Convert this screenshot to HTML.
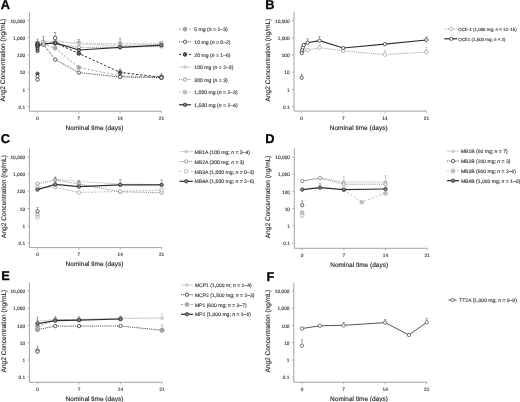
<!DOCTYPE html>
<html><head><meta charset="utf-8"><style>html,body{margin:0;padding:0;background:#fff;}svg{display:block;filter:blur(0.3px);} text{stroke:#444;stroke-width:0.16px;text-rendering:geometricPrecision;}</style></head>
<body><svg width="520" height="402" viewBox="0 0 520 402" font-family="Liberation Sans, sans-serif"><rect width="520" height="402" fill="#fff"/><text x="0.8" y="9.0" font-size="12.8" font-weight="bold" fill="#000" style="stroke:#000;stroke-width:0.25px">A</text><line x1="29.4" y1="11.7" x2="29.4" y2="111.2" stroke="#999" stroke-width="0.9"/><line x1="29.4" y1="111.2" x2="161.5" y2="111.2" stroke="#999" stroke-width="0.9"/><line x1="27.4" y1="20.40" x2="29.4" y2="20.40" stroke="#999" stroke-width="0.7"/><text x="25.099999999999998" y="22.50" font-size="4.8" text-anchor="end" fill="#444">10,000</text><line x1="27.4" y1="37.65" x2="29.4" y2="37.65" stroke="#999" stroke-width="0.7"/><text x="25.099999999999998" y="39.75" font-size="4.8" text-anchor="end" fill="#444">1,000</text><line x1="27.4" y1="54.90" x2="29.4" y2="54.90" stroke="#999" stroke-width="0.7"/><text x="25.099999999999998" y="57.00" font-size="4.8" text-anchor="end" fill="#444">100</text><line x1="27.4" y1="72.15" x2="29.4" y2="72.15" stroke="#999" stroke-width="0.7"/><text x="25.099999999999998" y="74.25" font-size="4.8" text-anchor="end" fill="#444">10</text><line x1="27.4" y1="89.40" x2="29.4" y2="89.40" stroke="#999" stroke-width="0.7"/><text x="25.099999999999998" y="91.50" font-size="4.8" text-anchor="end" fill="#444">1</text><line x1="27.4" y1="106.65" x2="29.4" y2="106.65" stroke="#999" stroke-width="0.7"/><text x="25.099999999999998" y="108.75" font-size="4.8" text-anchor="end" fill="#444">0.1</text><line x1="37.50" y1="111.2" x2="37.50" y2="113.2" stroke="#999" stroke-width="0.7"/><text x="37.50" y="119.80" font-size="4.8" text-anchor="middle" fill="#444">0</text><line x1="78.80" y1="111.2" x2="78.80" y2="113.2" stroke="#999" stroke-width="0.7"/><text x="78.80" y="119.80" font-size="4.8" text-anchor="middle" fill="#444">7</text><line x1="120.10" y1="111.2" x2="120.10" y2="113.2" stroke="#999" stroke-width="0.7"/><text x="120.10" y="119.80" font-size="4.8" text-anchor="middle" fill="#444">14</text><line x1="161.40" y1="111.2" x2="161.40" y2="113.2" stroke="#999" stroke-width="0.7"/><text x="161.40" y="119.80" font-size="4.8" text-anchor="middle" fill="#444">21</text><text x="94.50" y="129.70" font-size="6.5" text-anchor="middle" fill="#222">Nominal time (days)</text><text transform="translate(5.3,60.10) rotate(-90)" font-size="6.6" text-anchor="middle" fill="#222">Ang2 Concentration (ng/mL)</text><polyline points="37.50,43.00 43.40,42.00 55.20,42.00 78.80,43.00 120.10,43.80 161.40,43.00" fill="none" stroke="#bbb" stroke-width="0.9" stroke-dasharray="2.2,1.8"/><circle cx="37.50" cy="43.00" r="2.1" fill="#c0c0c0" stroke="#b0b0b0" stroke-width="0.5"/><circle cx="43.40" cy="42.00" r="2.1" fill="#c0c0c0" stroke="#b0b0b0" stroke-width="0.5"/><circle cx="55.20" cy="42.00" r="2.1" fill="#c0c0c0" stroke="#b0b0b0" stroke-width="0.5"/><circle cx="78.80" cy="43.00" r="2.1" fill="#c0c0c0" stroke="#b0b0b0" stroke-width="0.5"/><circle cx="120.10" cy="43.80" r="2.1" fill="#c0c0c0" stroke="#b0b0b0" stroke-width="0.5"/><circle cx="161.40" cy="43.00" r="2.1" fill="#c0c0c0" stroke="#b0b0b0" stroke-width="0.5"/><polyline points="37.50,44.00 43.40,42.50 55.20,40.50 78.80,44.00 120.10,45.60 161.40,44.00" fill="none" stroke="#d6d6d6" stroke-width="1.2"/><circle cx="37.50" cy="44.00" r="1.5" fill="#d0d0d0" stroke="#c0c0c0" stroke-width="0.5"/><circle cx="43.40" cy="42.50" r="1.5" fill="#d0d0d0" stroke="#c0c0c0" stroke-width="0.5"/><circle cx="55.20" cy="40.50" r="1.5" fill="#d0d0d0" stroke="#c0c0c0" stroke-width="0.5"/><circle cx="78.80" cy="44.00" r="1.5" fill="#d0d0d0" stroke="#c0c0c0" stroke-width="0.5"/><circle cx="120.10" cy="45.60" r="1.5" fill="#d0d0d0" stroke="#c0c0c0" stroke-width="0.5"/><circle cx="161.40" cy="44.00" r="1.5" fill="#d0d0d0" stroke="#c0c0c0" stroke-width="0.5"/><polyline points="37.50,44.00 43.40,43.50 55.20,43.50 78.80,47.30 120.10,47.30 161.40,46.40" fill="none" stroke="#808080" stroke-width="1.0" stroke-dasharray="0.9,1.0"/><circle cx="37.50" cy="44.00" r="1.7" fill="#fff" stroke="#777" stroke-width="0.7"/><circle cx="43.40" cy="43.50" r="1.7" fill="#fff" stroke="#777" stroke-width="0.7"/><circle cx="55.20" cy="43.50" r="1.7" fill="#fff" stroke="#777" stroke-width="0.7"/><circle cx="78.80" cy="47.30" r="1.7" fill="#fff" stroke="#777" stroke-width="0.7"/><circle cx="120.10" cy="47.30" r="1.7" fill="#fff" stroke="#777" stroke-width="0.7"/><circle cx="161.40" cy="46.40" r="1.7" fill="#fff" stroke="#777" stroke-width="0.7"/><polyline points="43.40,44.00 55.20,48.10 78.80,67.50 120.10,75.80 161.40,77.00" fill="none" stroke="#999" stroke-width="0.9" stroke-dasharray="2.2,1.8"/><circle cx="43.40" cy="44.00" r="2.1" fill="#aaa" stroke="#999" stroke-width="0.5"/><circle cx="55.20" cy="48.10" r="2.1" fill="#aaa" stroke="#999" stroke-width="0.5"/><circle cx="78.80" cy="67.50" r="2.1" fill="#aaa" stroke="#999" stroke-width="0.5"/><circle cx="120.10" cy="75.80" r="2.1" fill="#aaa" stroke="#999" stroke-width="0.5"/><circle cx="161.40" cy="77.00" r="2.1" fill="#aaa" stroke="#999" stroke-width="0.5"/><polyline points="43.40,44.50 55.20,59.60 78.80,72.60 120.10,77.00 161.40,77.60" fill="none" stroke="#333" stroke-width="1.0" stroke-dasharray="0.9,1.0"/><circle cx="43.40" cy="44.50" r="1.7" fill="#fff" stroke="#333" stroke-width="0.8"/><circle cx="55.20" cy="59.60" r="1.7" fill="#fff" stroke="#333" stroke-width="0.8"/><circle cx="78.80" cy="72.60" r="1.7" fill="#fff" stroke="#333" stroke-width="0.8"/><circle cx="120.10" cy="77.00" r="1.7" fill="#fff" stroke="#333" stroke-width="0.8"/><circle cx="161.40" cy="77.60" r="1.7" fill="#fff" stroke="#333" stroke-width="0.8"/><polyline points="37.50,45.00 43.40,44.00 55.20,43.00 78.80,53.40 120.10,72.40 161.40,77.30" fill="none" stroke="#333" stroke-width="1.0" stroke-dasharray="2.4,1.8"/><circle cx="37.50" cy="45.00" r="2.0" fill="#555" stroke="#333" stroke-width="0.6"/><circle cx="43.40" cy="44.00" r="2.0" fill="#555" stroke="#333" stroke-width="0.6"/><circle cx="55.20" cy="43.00" r="2.0" fill="#555" stroke="#333" stroke-width="0.6"/><circle cx="78.80" cy="53.40" r="2.0" fill="#555" stroke="#333" stroke-width="0.6"/><circle cx="120.10" cy="72.40" r="2.0" fill="#555" stroke="#333" stroke-width="0.6"/><circle cx="161.40" cy="77.30" r="2.0" fill="#555" stroke="#333" stroke-width="0.6"/><polyline points="37.50,46.00 43.40,44.00 55.20,42.90 78.80,50.00 120.10,47.30 161.40,45.20" fill="none" stroke="#2e2e2e" stroke-width="1.2"/><circle cx="37.50" cy="46.00" r="1.7" fill="#8a8a8a" stroke="#222" stroke-width="0.75"/><circle cx="43.40" cy="44.00" r="1.7" fill="#8a8a8a" stroke="#222" stroke-width="0.75"/><circle cx="55.20" cy="42.90" r="1.7" fill="#8a8a8a" stroke="#222" stroke-width="0.75"/><circle cx="78.80" cy="50.00" r="1.7" fill="#8a8a8a" stroke="#222" stroke-width="0.75"/><circle cx="120.10" cy="47.30" r="1.7" fill="#8a8a8a" stroke="#222" stroke-width="0.75"/><circle cx="161.40" cy="45.20" r="1.7" fill="#8a8a8a" stroke="#222" stroke-width="0.75"/><circle cx="37.50" cy="43.00" r="1.6" fill="#8a8a8a" stroke="#222" stroke-width="0.75"/><circle cx="37.50" cy="45.00" r="1.6" fill="#8a8a8a" stroke="#222" stroke-width="0.75"/><circle cx="37.50" cy="47.00" r="1.6" fill="#8a8a8a" stroke="#222" stroke-width="0.75"/><circle cx="37.50" cy="49.00" r="1.6" fill="#8a8a8a" stroke="#222" stroke-width="0.75"/><circle cx="37.50" cy="51.00" r="1.6" fill="#8a8a8a" stroke="#222" stroke-width="0.75"/><circle cx="43.40" cy="42.50" r="1.7" fill="#c0c0c0" stroke="#b0b0b0" stroke-width="0.5"/><circle cx="43.40" cy="44.50" r="1.7" fill="#c0c0c0" stroke="#b0b0b0" stroke-width="0.5"/><circle cx="37.50" cy="73.60" r="1.7" fill="#555" stroke="#333" stroke-width="0.6"/><circle cx="37.50" cy="76.30" r="1.6" fill="#fff" stroke="#333" stroke-width="0.8"/><circle cx="37.50" cy="79.60" r="1.8" fill="#fff" stroke="#333" stroke-width="0.8"/><circle cx="55.20" cy="38.00" r="1.8" fill="#fff" stroke="#333" stroke-width="0.8"/><line x1="37.50" y1="42.00" x2="37.50" y2="39.30" stroke="#666" stroke-width="0.6"/><line x1="36.50" y1="39.30" x2="38.50" y2="39.30" stroke="#666" stroke-width="0.6"/><line x1="43.40" y1="41.00" x2="43.40" y2="36.30" stroke="#666" stroke-width="0.6"/><line x1="42.40" y1="36.30" x2="44.40" y2="36.30" stroke="#666" stroke-width="0.6"/><line x1="55.20" y1="36.00" x2="55.20" y2="32.50" stroke="#666" stroke-width="0.6"/><line x1="54.20" y1="32.50" x2="56.20" y2="32.50" stroke="#666" stroke-width="0.6"/><line x1="78.80" y1="43.00" x2="78.80" y2="39.50" stroke="#666" stroke-width="0.6"/><line x1="77.80" y1="39.50" x2="79.80" y2="39.50" stroke="#666" stroke-width="0.6"/><line x1="120.10" y1="45.00" x2="120.10" y2="38.60" stroke="#666" stroke-width="0.6"/><line x1="119.10" y1="38.60" x2="121.10" y2="38.60" stroke="#666" stroke-width="0.6"/><line x1="120.10" y1="72.00" x2="120.10" y2="69.00" stroke="#666" stroke-width="0.6"/><line x1="119.10" y1="69.00" x2="121.10" y2="69.00" stroke="#666" stroke-width="0.6"/><line x1="161.40" y1="76.00" x2="161.40" y2="73.40" stroke="#666" stroke-width="0.6"/><line x1="160.40" y1="73.40" x2="162.40" y2="73.40" stroke="#666" stroke-width="0.6"/><circle cx="161.40" cy="77.60" r="1.65" fill="#fff" stroke="#2a2a2a" stroke-width="0.75"/><line x1="179" y1="29.20" x2="191" y2="29.20" stroke="#999" stroke-width="0.9" stroke-dasharray="2,8.00,2"/><circle cx="185.00" cy="29.20" r="2.1" fill="#aaa" stroke="#999" stroke-width="0.5"/><text x="194.3" y="31.30" font-size="5.12" fill="#444">5 mg (<tspan font-style="italic">n</tspan> = 1–3)</text><line x1="179" y1="41.80" x2="191" y2="41.80" stroke="#333" stroke-width="1.0" stroke-dasharray="0.9,1.0"/><circle cx="185.00" cy="41.80" r="1.7" fill="#fff" stroke="#333" stroke-width="0.8"/><text x="194.3" y="43.90" font-size="5.12" fill="#444">10 mg (<tspan font-style="italic">n</tspan> = 0–2)</text><line x1="179" y1="54.40" x2="191" y2="54.40" stroke="#333" stroke-width="1.0" stroke-dasharray="2,8.00,2"/><circle cx="185.00" cy="54.40" r="2.0" fill="#555" stroke="#333" stroke-width="0.6"/><text x="194.3" y="56.50" font-size="5.12" fill="#444">20 mg (<tspan font-style="italic">n</tspan> = 1–6)</text><line x1="179" y1="67.00" x2="191" y2="67.00" stroke="#d6d6d6" stroke-width="1.2"/><circle cx="185.00" cy="67.00" r="1.5" fill="#d0d0d0" stroke="#c0c0c0" stroke-width="0.5"/><text x="194.3" y="69.10" font-size="5.12" fill="#444">100 mg (<tspan font-style="italic">n</tspan> = 2–3)</text><line x1="179" y1="79.60" x2="191" y2="79.60" stroke="#808080" stroke-width="1.0" stroke-dasharray="0.9,1.0"/><circle cx="185.00" cy="79.60" r="1.7" fill="#fff" stroke="#777" stroke-width="0.7"/><text x="194.3" y="81.70" font-size="5.12" fill="#444">300 mg (<tspan font-style="italic">n</tspan> = 3)</text><line x1="179" y1="92.20" x2="191" y2="92.20" stroke="#bbb" stroke-width="0.9" stroke-dasharray="2,8.00,2"/><circle cx="185.00" cy="92.20" r="2.1" fill="#c0c0c0" stroke="#b0b0b0" stroke-width="0.5"/><text x="194.3" y="94.30" font-size="5.12" fill="#444">1,000 mg (<tspan font-style="italic">n</tspan> = 2–3)</text><line x1="179" y1="104.80" x2="191" y2="104.80" stroke="#2e2e2e" stroke-width="1.2"/><circle cx="185.00" cy="104.80" r="1.7" fill="#8a8a8a" stroke="#222" stroke-width="0.75"/><text x="194.3" y="106.90" font-size="5.12" fill="#444">1,500 mg (<tspan font-style="italic">n</tspan> = 2–4)</text><text x="265.3" y="9.0" font-size="12.8" font-weight="bold" fill="#000" style="stroke:#000;stroke-width:0.25px">B</text><line x1="294.0" y1="11.7" x2="294.0" y2="111.1" stroke="#999" stroke-width="0.9"/><line x1="294.0" y1="111.1" x2="426.7" y2="111.1" stroke="#999" stroke-width="0.9"/><line x1="292.0" y1="20.50" x2="294.0" y2="20.50" stroke="#999" stroke-width="0.7"/><text x="289.7" y="22.60" font-size="4.8" text-anchor="end" fill="#444">10,000</text><line x1="292.0" y1="37.75" x2="294.0" y2="37.75" stroke="#999" stroke-width="0.7"/><text x="289.7" y="39.85" font-size="4.8" text-anchor="end" fill="#444">1,000</text><line x1="292.0" y1="55.00" x2="294.0" y2="55.00" stroke="#999" stroke-width="0.7"/><text x="289.7" y="57.10" font-size="4.8" text-anchor="end" fill="#444">100</text><line x1="292.0" y1="72.25" x2="294.0" y2="72.25" stroke="#999" stroke-width="0.7"/><text x="289.7" y="74.35" font-size="4.8" text-anchor="end" fill="#444">10</text><line x1="292.0" y1="89.50" x2="294.0" y2="89.50" stroke="#999" stroke-width="0.7"/><text x="289.7" y="91.60" font-size="4.8" text-anchor="end" fill="#444">1</text><line x1="292.0" y1="106.75" x2="294.0" y2="106.75" stroke="#999" stroke-width="0.7"/><text x="289.7" y="108.85" font-size="4.8" text-anchor="end" fill="#444">0.1</text><line x1="301.70" y1="111.1" x2="301.70" y2="113.1" stroke="#999" stroke-width="0.7"/><text x="301.70" y="119.70" font-size="4.8" text-anchor="middle" fill="#444">0</text><line x1="343.28" y1="111.1" x2="343.28" y2="113.1" stroke="#999" stroke-width="0.7"/><text x="343.28" y="119.70" font-size="4.8" text-anchor="middle" fill="#444">7</text><line x1="384.86" y1="111.1" x2="384.86" y2="113.1" stroke="#999" stroke-width="0.7"/><text x="384.86" y="119.70" font-size="4.8" text-anchor="middle" fill="#444">14</text><line x1="426.44" y1="111.1" x2="426.44" y2="113.1" stroke="#999" stroke-width="0.7"/><text x="426.44" y="119.70" font-size="4.8" text-anchor="middle" fill="#444">21</text><text x="358.70" y="129.60" font-size="6.5" text-anchor="middle" fill="#222">Nominal time (days)</text><text transform="translate(270,60.05) rotate(-90)" font-size="6.6" text-anchor="middle" fill="#222">Ang2 Concentration (ng/mL)</text><polyline points="301.70,52.00 307.64,50.10 319.52,47.60 343.28,50.90 384.86,54.60 426.44,52.10" fill="none" stroke="#999" stroke-width="1.0" stroke-dasharray="0.9,1.0"/><circle cx="301.70" cy="52.00" r="1.8" fill="#fff" stroke="#999" stroke-width="0.7"/><circle cx="307.64" cy="50.10" r="1.8" fill="#fff" stroke="#999" stroke-width="0.7"/><circle cx="319.52" cy="47.60" r="1.8" fill="#fff" stroke="#999" stroke-width="0.7"/><circle cx="343.28" cy="50.90" r="1.8" fill="#fff" stroke="#999" stroke-width="0.7"/><circle cx="384.86" cy="54.60" r="1.8" fill="#fff" stroke="#999" stroke-width="0.7"/><circle cx="426.44" cy="52.10" r="1.8" fill="#fff" stroke="#999" stroke-width="0.7"/><polyline points="301.70,53.00 302.20,50.00 302.90,47.50 303.70,45.00 307.64,42.70 319.52,40.70 343.28,48.00 384.86,44.20 426.44,40.00" fill="none" stroke="#2e2e2e" stroke-width="1.2"/><circle cx="301.70" cy="53.00" r="1.65" fill="#fff" stroke="#2a2a2a" stroke-width="0.75"/><circle cx="302.20" cy="50.00" r="1.65" fill="#fff" stroke="#2a2a2a" stroke-width="0.75"/><circle cx="302.90" cy="47.50" r="1.65" fill="#fff" stroke="#2a2a2a" stroke-width="0.75"/><circle cx="303.70" cy="45.00" r="1.65" fill="#fff" stroke="#2a2a2a" stroke-width="0.75"/><circle cx="307.64" cy="42.70" r="1.65" fill="#fff" stroke="#2a2a2a" stroke-width="0.75"/><circle cx="319.52" cy="40.70" r="1.65" fill="#fff" stroke="#2a2a2a" stroke-width="0.75"/><circle cx="343.28" cy="48.00" r="1.65" fill="#fff" stroke="#2a2a2a" stroke-width="0.75"/><circle cx="384.86" cy="44.20" r="1.65" fill="#fff" stroke="#2a2a2a" stroke-width="0.75"/><circle cx="426.44" cy="40.00" r="1.65" fill="#fff" stroke="#2a2a2a" stroke-width="0.75"/><circle cx="301.70" cy="77.80" r="1.65" fill="#fff" stroke="#2a2a2a" stroke-width="0.75"/><line x1="301.70" y1="76.00" x2="301.70" y2="74.50" stroke="#666" stroke-width="0.6"/><line x1="300.70" y1="74.50" x2="302.70" y2="74.50" stroke="#666" stroke-width="0.6"/><line x1="307.64" y1="41.00" x2="307.64" y2="38.70" stroke="#666" stroke-width="0.6"/><line x1="306.64" y1="38.70" x2="308.64" y2="38.70" stroke="#666" stroke-width="0.6"/><line x1="319.52" y1="39.00" x2="319.52" y2="36.70" stroke="#666" stroke-width="0.6"/><line x1="318.52" y1="36.70" x2="320.52" y2="36.70" stroke="#666" stroke-width="0.6"/><line x1="426.44" y1="38.50" x2="426.44" y2="36.90" stroke="#666" stroke-width="0.6"/><line x1="425.44" y1="36.90" x2="427.44" y2="36.90" stroke="#666" stroke-width="0.6"/><line x1="384.86" y1="53.00" x2="384.86" y2="50.40" stroke="#aaa" stroke-width="0.6"/><line x1="383.86" y1="50.40" x2="385.86" y2="50.40" stroke="#aaa" stroke-width="0.6"/><line x1="426.44" y1="50.50" x2="426.44" y2="47.30" stroke="#aaa" stroke-width="0.6"/><line x1="425.44" y1="47.30" x2="427.44" y2="47.30" stroke="#aaa" stroke-width="0.6"/><line x1="319.52" y1="46.00" x2="319.52" y2="44.90" stroke="#aaa" stroke-width="0.6"/><line x1="318.52" y1="44.90" x2="320.52" y2="44.90" stroke="#aaa" stroke-width="0.6"/><line x1="444.3" y1="28.90" x2="457.1" y2="28.90" stroke="#999" stroke-width="1.0" stroke-dasharray="0.9,1.0"/><circle cx="451.30" cy="28.90" r="1.8" fill="#fff" stroke="#999" stroke-width="0.7"/><text x="458.2" y="31.00" font-size="4.45" fill="#444">OCE-1 (1,000 mg; <tspan font-style="italic">n</tspan> = 12–15)</text><line x1="444.3" y1="38.80" x2="457.1" y2="38.80" stroke="#2e2e2e" stroke-width="1.2"/><circle cx="451.30" cy="38.80" r="1.65" fill="#fff" stroke="#2a2a2a" stroke-width="0.75"/><text x="458.2" y="40.90" font-size="4.45" fill="#444">OCE1 (1,500 mg; <tspan font-style="italic">n</tspan> = 2)</text><text x="0.8" y="143.0" font-size="12.8" font-weight="bold" fill="#000" style="stroke:#000;stroke-width:0.25px">C</text><line x1="29.4" y1="148.2" x2="29.4" y2="247.6" stroke="#999" stroke-width="0.9"/><line x1="29.4" y1="247.6" x2="161.9" y2="247.6" stroke="#999" stroke-width="0.9"/><line x1="27.4" y1="156.80" x2="29.4" y2="156.80" stroke="#999" stroke-width="0.7"/><text x="25.099999999999998" y="158.90" font-size="4.8" text-anchor="end" fill="#444">10,000</text><line x1="27.4" y1="174.05" x2="29.4" y2="174.05" stroke="#999" stroke-width="0.7"/><text x="25.099999999999998" y="176.15" font-size="4.8" text-anchor="end" fill="#444">1,000</text><line x1="27.4" y1="191.30" x2="29.4" y2="191.30" stroke="#999" stroke-width="0.7"/><text x="25.099999999999998" y="193.40" font-size="4.8" text-anchor="end" fill="#444">100</text><line x1="27.4" y1="208.55" x2="29.4" y2="208.55" stroke="#999" stroke-width="0.7"/><text x="25.099999999999998" y="210.65" font-size="4.8" text-anchor="end" fill="#444">10</text><line x1="27.4" y1="225.80" x2="29.4" y2="225.80" stroke="#999" stroke-width="0.7"/><text x="25.099999999999998" y="227.90" font-size="4.8" text-anchor="end" fill="#444">1</text><line x1="27.4" y1="243.05" x2="29.4" y2="243.05" stroke="#999" stroke-width="0.7"/><text x="25.099999999999998" y="245.15" font-size="4.8" text-anchor="end" fill="#444">0.1</text><line x1="37.50" y1="247.6" x2="37.50" y2="249.6" stroke="#999" stroke-width="0.7"/><text x="37.50" y="256.20" font-size="4.8" text-anchor="middle" fill="#444">0</text><line x1="78.87" y1="247.6" x2="78.87" y2="249.6" stroke="#999" stroke-width="0.7"/><text x="78.87" y="256.20" font-size="4.8" text-anchor="middle" fill="#444">7</text><line x1="120.24" y1="247.6" x2="120.24" y2="249.6" stroke="#999" stroke-width="0.7"/><text x="120.24" y="256.20" font-size="4.8" text-anchor="middle" fill="#444">14</text><line x1="161.61" y1="247.6" x2="161.61" y2="249.6" stroke="#999" stroke-width="0.7"/><text x="161.61" y="256.20" font-size="4.8" text-anchor="middle" fill="#444">21</text><text x="94.50" y="266.10" font-size="6.5" text-anchor="middle" fill="#222">Nominal time (days)</text><text transform="translate(5.8,196.55) rotate(-90)" font-size="6.6" text-anchor="middle" fill="#222">Ang2 Concentration (ng/mL)</text><polyline points="55.23,179.00 78.87,181.50 120.24,184.00 161.61,184.50" fill="none" stroke="#d6d6d6" stroke-width="1.2"/><circle cx="55.23" cy="179.00" r="1.5" fill="#d0d0d0" stroke="#c0c0c0" stroke-width="0.5"/><circle cx="78.87" cy="181.50" r="1.5" fill="#d0d0d0" stroke="#c0c0c0" stroke-width="0.5"/><circle cx="120.24" cy="184.00" r="1.5" fill="#d0d0d0" stroke="#c0c0c0" stroke-width="0.5"/><circle cx="161.61" cy="184.50" r="1.5" fill="#d0d0d0" stroke="#c0c0c0" stroke-width="0.5"/><polyline points="37.50,183.70 55.23,180.00 78.87,184.00 120.24,191.80 161.61,192.70" fill="none" stroke="#808080" stroke-width="1.0" stroke-dasharray="0.9,1.0"/><circle cx="37.50" cy="183.70" r="1.7" fill="#fff" stroke="#777" stroke-width="0.7"/><circle cx="55.23" cy="180.00" r="1.7" fill="#fff" stroke="#777" stroke-width="0.7"/><circle cx="78.87" cy="184.00" r="1.7" fill="#fff" stroke="#777" stroke-width="0.7"/><circle cx="120.24" cy="191.80" r="1.7" fill="#fff" stroke="#777" stroke-width="0.7"/><circle cx="161.61" cy="192.70" r="1.7" fill="#fff" stroke="#777" stroke-width="0.7"/><polyline points="37.50,187.00 55.23,187.40 78.87,192.60 120.24,191.30 161.61,190.10" fill="none" stroke="#aaa" stroke-width="0.9" stroke-dasharray="1.6,1.6"/><circle cx="37.50" cy="187.00" r="1.8" fill="#fff" stroke="#999" stroke-width="0.7"/><circle cx="55.23" cy="187.40" r="1.8" fill="#fff" stroke="#999" stroke-width="0.7"/><circle cx="78.87" cy="192.60" r="1.8" fill="#fff" stroke="#999" stroke-width="0.7"/><circle cx="120.24" cy="191.30" r="1.8" fill="#fff" stroke="#999" stroke-width="0.7"/><circle cx="161.61" cy="190.10" r="1.8" fill="#fff" stroke="#999" stroke-width="0.7"/><polyline points="37.50,189.60 55.23,184.40 78.87,186.60 120.24,184.90 161.61,184.90" fill="none" stroke="#2e2e2e" stroke-width="1.2"/><circle cx="37.50" cy="189.60" r="1.7" fill="#8a8a8a" stroke="#222" stroke-width="0.75"/><circle cx="55.23" cy="184.40" r="1.7" fill="#8a8a8a" stroke="#222" stroke-width="0.75"/><circle cx="78.87" cy="186.60" r="1.7" fill="#8a8a8a" stroke="#222" stroke-width="0.75"/><circle cx="120.24" cy="184.90" r="1.7" fill="#8a8a8a" stroke="#222" stroke-width="0.75"/><circle cx="161.61" cy="184.90" r="1.7" fill="#8a8a8a" stroke="#222" stroke-width="0.75"/><circle cx="37.50" cy="217.20" r="1.8" fill="#fff" stroke="#999" stroke-width="0.7"/><circle cx="37.50" cy="214.30" r="1.7" fill="#fff" stroke="#777" stroke-width="0.7"/><circle cx="37.50" cy="211.30" r="1.65" fill="#fff" stroke="#2a2a2a" stroke-width="0.75"/><line x1="37.50" y1="210.00" x2="37.50" y2="207.50" stroke="#666" stroke-width="0.6"/><line x1="36.50" y1="207.50" x2="38.50" y2="207.50" stroke="#666" stroke-width="0.6"/><line x1="55.23" y1="183.00" x2="55.23" y2="177.00" stroke="#666" stroke-width="0.6"/><line x1="54.23" y1="177.00" x2="56.23" y2="177.00" stroke="#666" stroke-width="0.6"/><line x1="78.87" y1="185.00" x2="78.87" y2="180.70" stroke="#666" stroke-width="0.6"/><line x1="77.87" y1="180.70" x2="79.87" y2="180.70" stroke="#666" stroke-width="0.6"/><line x1="120.24" y1="183.00" x2="120.24" y2="179.70" stroke="#666" stroke-width="0.6"/><line x1="119.24" y1="179.70" x2="121.24" y2="179.70" stroke="#666" stroke-width="0.6"/><line x1="161.61" y1="183.00" x2="161.61" y2="179.70" stroke="#666" stroke-width="0.6"/><line x1="160.61" y1="179.70" x2="162.61" y2="179.70" stroke="#666" stroke-width="0.6"/><line x1="179.5" y1="151.60" x2="192.9" y2="151.60" stroke="#d6d6d6" stroke-width="1.2"/><circle cx="186.20" cy="151.60" r="1.5" fill="#d0d0d0" stroke="#c0c0c0" stroke-width="0.5"/><text x="194.6" y="153.70" font-size="5.1" fill="#444">MB1A (100 mg; <tspan font-style="italic">n</tspan> = 3–4)</text><line x1="179.5" y1="161.50" x2="192.9" y2="161.50" stroke="#808080" stroke-width="1.0" stroke-dasharray="0.9,1.0"/><circle cx="186.20" cy="161.50" r="1.7" fill="#fff" stroke="#777" stroke-width="0.7"/><text x="194.6" y="163.60" font-size="5.1" fill="#444">MB2A (300 mg; <tspan font-style="italic">n</tspan> = 3)</text><line x1="179.5" y1="171.40" x2="192.9" y2="171.40" stroke="#aaa" stroke-width="0.9" stroke-dasharray="2,9.40,2"/><circle cx="186.20" cy="171.40" r="1.8" fill="#fff" stroke="#999" stroke-width="0.7"/><text x="194.6" y="173.50" font-size="5.1" fill="#444">MB3A (1,000 mg; <tspan font-style="italic">n</tspan> = 0–3)</text><line x1="179.5" y1="181.30" x2="192.9" y2="181.30" stroke="#2e2e2e" stroke-width="1.2"/><circle cx="186.20" cy="181.30" r="1.7" fill="#8a8a8a" stroke="#222" stroke-width="0.75"/><text x="194.6" y="183.40" font-size="5.1" fill="#444">MB4A (1,500 mg; <tspan font-style="italic">n</tspan> = 2–6)</text><text x="265.3" y="143.2" font-size="12.8" font-weight="bold" fill="#000" style="stroke:#000;stroke-width:0.25px">D</text><line x1="294.3" y1="148.2" x2="294.3" y2="248.3" stroke="#999" stroke-width="0.9"/><line x1="294.3" y1="248.3" x2="427.2" y2="248.3" stroke="#999" stroke-width="0.9"/><line x1="292.3" y1="156.90" x2="294.3" y2="156.90" stroke="#999" stroke-width="0.7"/><text x="290.0" y="159.00" font-size="4.8" text-anchor="end" fill="#444">10,000</text><line x1="292.3" y1="174.15" x2="294.3" y2="174.15" stroke="#999" stroke-width="0.7"/><text x="290.0" y="176.25" font-size="4.8" text-anchor="end" fill="#444">1,000</text><line x1="292.3" y1="191.40" x2="294.3" y2="191.40" stroke="#999" stroke-width="0.7"/><text x="290.0" y="193.50" font-size="4.8" text-anchor="end" fill="#444">100</text><line x1="292.3" y1="208.65" x2="294.3" y2="208.65" stroke="#999" stroke-width="0.7"/><text x="290.0" y="210.75" font-size="4.8" text-anchor="end" fill="#444">10</text><line x1="292.3" y1="225.90" x2="294.3" y2="225.90" stroke="#999" stroke-width="0.7"/><text x="290.0" y="228.00" font-size="4.8" text-anchor="end" fill="#444">1</text><line x1="292.3" y1="243.15" x2="294.3" y2="243.15" stroke="#999" stroke-width="0.7"/><text x="290.0" y="245.25" font-size="4.8" text-anchor="end" fill="#444">0.1</text><line x1="302.20" y1="248.3" x2="302.20" y2="250.3" stroke="#999" stroke-width="0.7"/><text x="302.20" y="256.90" font-size="4.8" text-anchor="middle" fill="#444">0</text><line x1="343.85" y1="248.3" x2="343.85" y2="250.3" stroke="#999" stroke-width="0.7"/><text x="343.85" y="256.90" font-size="4.8" text-anchor="middle" fill="#444">7</text><line x1="385.50" y1="248.3" x2="385.50" y2="250.3" stroke="#999" stroke-width="0.7"/><text x="385.50" y="256.90" font-size="4.8" text-anchor="middle" fill="#444">14</text><line x1="427.15" y1="248.3" x2="427.15" y2="250.3" stroke="#999" stroke-width="0.7"/><text x="427.15" y="256.90" font-size="4.8" text-anchor="middle" fill="#444">21</text><text x="359.20" y="266.80" font-size="6.5" text-anchor="middle" fill="#222">Nominal time (days)</text><text transform="translate(270,196.90) rotate(-90)" font-size="6.6" text-anchor="middle" fill="#222">Ang2 Concentration (ng/mL)</text><polyline points="302.20,181.00 320.05,178.00 343.85,182.00 385.50,182.00" fill="none" stroke="#d6d6d6" stroke-width="1.2"/><circle cx="302.20" cy="181.00" r="1.5" fill="#d0d0d0" stroke="#c0c0c0" stroke-width="0.5"/><circle cx="320.05" cy="178.00" r="1.5" fill="#d0d0d0" stroke="#c0c0c0" stroke-width="0.5"/><circle cx="343.85" cy="182.00" r="1.5" fill="#d0d0d0" stroke="#c0c0c0" stroke-width="0.5"/><circle cx="385.50" cy="182.00" r="1.5" fill="#d0d0d0" stroke="#c0c0c0" stroke-width="0.5"/><polyline points="302.20,181.10 320.05,178.10 343.85,184.20 385.50,184.20" fill="none" stroke="#808080" stroke-width="1.0" stroke-dasharray="0.9,1.0"/><circle cx="302.20" cy="181.10" r="1.7" fill="#fff" stroke="#777" stroke-width="0.7"/><circle cx="320.05" cy="178.10" r="1.7" fill="#fff" stroke="#777" stroke-width="0.7"/><circle cx="343.85" cy="184.20" r="1.7" fill="#fff" stroke="#777" stroke-width="0.7"/><circle cx="385.50" cy="184.20" r="1.7" fill="#fff" stroke="#777" stroke-width="0.7"/><polyline points="343.85,190.00 361.70,202.10 385.50,193.50" fill="none" stroke="#bbb" stroke-width="0.9" stroke-dasharray="2.2,1.8"/><circle cx="343.85" cy="190.00" r="2.1" fill="#c0c0c0" stroke="#b0b0b0" stroke-width="0.5"/><circle cx="361.70" cy="202.10" r="2.1" fill="#c0c0c0" stroke="#b0b0b0" stroke-width="0.5"/><circle cx="385.50" cy="193.50" r="2.1" fill="#c0c0c0" stroke="#b0b0b0" stroke-width="0.5"/><polyline points="302.20,189.60 320.05,187.60 343.85,189.60 385.50,189.00" fill="none" stroke="#2e2e2e" stroke-width="1.2"/><circle cx="302.20" cy="189.60" r="1.7" fill="#8a8a8a" stroke="#222" stroke-width="0.75"/><circle cx="320.05" cy="187.60" r="1.7" fill="#8a8a8a" stroke="#222" stroke-width="0.75"/><circle cx="343.85" cy="189.60" r="1.7" fill="#8a8a8a" stroke="#222" stroke-width="0.75"/><circle cx="385.50" cy="189.00" r="1.7" fill="#8a8a8a" stroke="#222" stroke-width="0.75"/><circle cx="302.20" cy="215.70" r="1.8" fill="#fff" stroke="#999" stroke-width="0.7"/><circle cx="302.20" cy="212.50" r="2.1" fill="#c0c0c0" stroke="#b0b0b0" stroke-width="0.5"/><circle cx="302.20" cy="205.30" r="1.65" fill="#fff" stroke="#2a2a2a" stroke-width="0.75"/><line x1="302.20" y1="204.00" x2="302.20" y2="200.80" stroke="#666" stroke-width="0.6"/><line x1="301.20" y1="200.80" x2="303.20" y2="200.80" stroke="#666" stroke-width="0.6"/><line x1="320.05" y1="186.00" x2="320.05" y2="183.70" stroke="#666" stroke-width="0.6"/><line x1="319.05" y1="183.70" x2="321.05" y2="183.70" stroke="#666" stroke-width="0.6"/><line x1="343.85" y1="183.00" x2="343.85" y2="176.70" stroke="#aaa" stroke-width="0.6"/><line x1="342.85" y1="176.70" x2="344.85" y2="176.70" stroke="#aaa" stroke-width="0.6"/><line x1="385.50" y1="182.00" x2="385.50" y2="175.60" stroke="#aaa" stroke-width="0.6"/><line x1="384.50" y1="175.60" x2="386.50" y2="175.60" stroke="#aaa" stroke-width="0.6"/><line x1="447" y1="151.30" x2="459" y2="151.30" stroke="#d6d6d6" stroke-width="1.2"/><circle cx="453.00" cy="151.30" r="1.5" fill="#d0d0d0" stroke="#c0c0c0" stroke-width="0.5"/><text x="460.9" y="153.40" font-size="5.05" fill="#444">MB1B (60 mg; <tspan font-style="italic">n</tspan> = 7)</text><line x1="447" y1="161.10" x2="459" y2="161.10" stroke="#333" stroke-width="1.0" stroke-dasharray="0.9,1.0"/><circle cx="453.00" cy="161.10" r="1.7" fill="#fff" stroke="#333" stroke-width="0.8"/><text x="460.9" y="163.20" font-size="5.05" fill="#444">MB2B (200 mg; <tspan font-style="italic">n</tspan> = 3)</text><line x1="447" y1="170.90" x2="459" y2="170.90" stroke="#bbb" stroke-width="0.9" stroke-dasharray="2,8.00,2"/><circle cx="453.00" cy="170.90" r="2.1" fill="#c0c0c0" stroke="#b0b0b0" stroke-width="0.5"/><text x="460.9" y="173.00" font-size="5.05" fill="#444">MB3B (600 mg; <tspan font-style="italic">n</tspan> = 2–6)</text><line x1="447" y1="180.70" x2="459" y2="180.70" stroke="#2e2e2e" stroke-width="1.2"/><circle cx="453.00" cy="180.70" r="1.7" fill="#8a8a8a" stroke="#222" stroke-width="0.75"/><text x="460.9" y="182.80" font-size="5.05" fill="#444">MB4B (1,000 mg; <tspan font-style="italic">n</tspan> = 1–6)</text><text x="1.2" y="280.3" font-size="12.8" font-weight="bold" fill="#000" style="stroke:#000;stroke-width:0.25px">E</text><line x1="29.4" y1="282.7" x2="29.4" y2="382.3" stroke="#999" stroke-width="0.9"/><line x1="29.4" y1="382.3" x2="162.4" y2="382.3" stroke="#999" stroke-width="0.9"/><line x1="27.4" y1="291.00" x2="29.4" y2="291.00" stroke="#999" stroke-width="0.7"/><text x="25.099999999999998" y="293.10" font-size="4.8" text-anchor="end" fill="#444">10,000</text><line x1="27.4" y1="308.25" x2="29.4" y2="308.25" stroke="#999" stroke-width="0.7"/><text x="25.099999999999998" y="310.35" font-size="4.8" text-anchor="end" fill="#444">1,000</text><line x1="27.4" y1="325.50" x2="29.4" y2="325.50" stroke="#999" stroke-width="0.7"/><text x="25.099999999999998" y="327.60" font-size="4.8" text-anchor="end" fill="#444">100</text><line x1="27.4" y1="342.75" x2="29.4" y2="342.75" stroke="#999" stroke-width="0.7"/><text x="25.099999999999998" y="344.85" font-size="4.8" text-anchor="end" fill="#444">10</text><line x1="27.4" y1="360.00" x2="29.4" y2="360.00" stroke="#999" stroke-width="0.7"/><text x="25.099999999999998" y="362.10" font-size="4.8" text-anchor="end" fill="#444">1</text><line x1="27.4" y1="377.25" x2="29.4" y2="377.25" stroke="#999" stroke-width="0.7"/><text x="25.099999999999998" y="379.35" font-size="4.8" text-anchor="end" fill="#444">0.1</text><line x1="37.50" y1="382.3" x2="37.50" y2="384.3" stroke="#999" stroke-width="0.7"/><text x="37.50" y="390.90" font-size="4.8" text-anchor="middle" fill="#444">0</text><line x1="79.01" y1="382.3" x2="79.01" y2="384.3" stroke="#999" stroke-width="0.7"/><text x="79.01" y="390.90" font-size="4.8" text-anchor="middle" fill="#444">7</text><line x1="120.52" y1="382.3" x2="120.52" y2="384.3" stroke="#999" stroke-width="0.7"/><text x="120.52" y="390.90" font-size="4.8" text-anchor="middle" fill="#444">14</text><line x1="162.03" y1="382.3" x2="162.03" y2="384.3" stroke="#999" stroke-width="0.7"/><text x="162.03" y="390.90" font-size="4.8" text-anchor="middle" fill="#444">21</text><text x="94.50" y="400.80" font-size="6.5" text-anchor="middle" fill="#222">Nominal time (days)</text><text transform="translate(6.3,331.15) rotate(-90)" font-size="6.6" text-anchor="middle" fill="#222">Ang2 Concentration (ng/mL)</text><polyline points="37.50,321.00 55.29,319.50 79.01,319.50 120.52,318.30 162.03,318.20" fill="none" stroke="#d6d6d6" stroke-width="1.2"/><circle cx="37.50" cy="321.00" r="1.5" fill="#d0d0d0" stroke="#c0c0c0" stroke-width="0.5"/><circle cx="55.29" cy="319.50" r="1.5" fill="#d0d0d0" stroke="#c0c0c0" stroke-width="0.5"/><circle cx="79.01" cy="319.50" r="1.5" fill="#d0d0d0" stroke="#c0c0c0" stroke-width="0.5"/><circle cx="120.52" cy="318.30" r="1.5" fill="#d0d0d0" stroke="#c0c0c0" stroke-width="0.5"/><circle cx="162.03" cy="318.20" r="1.5" fill="#d0d0d0" stroke="#c0c0c0" stroke-width="0.5"/><polyline points="37.50,329.60 55.29,326.10 79.01,326.10 120.52,326.00 162.03,330.30" fill="none" stroke="#333" stroke-width="1.0" stroke-dasharray="0.9,1.0"/><circle cx="37.50" cy="329.60" r="1.7" fill="#fff" stroke="#333" stroke-width="0.8"/><circle cx="55.29" cy="326.10" r="1.7" fill="#fff" stroke="#333" stroke-width="0.8"/><circle cx="79.01" cy="326.10" r="1.7" fill="#fff" stroke="#333" stroke-width="0.8"/><circle cx="120.52" cy="326.00" r="1.7" fill="#fff" stroke="#333" stroke-width="0.8"/><circle cx="162.03" cy="330.30" r="1.7" fill="#fff" stroke="#333" stroke-width="0.8"/><polyline points="37.50,326.60 55.29,320.00 79.01,319.80 120.52,319.00" fill="none" stroke="#999" stroke-width="0.9" stroke-dasharray="2.2,1.8"/><circle cx="37.50" cy="326.60" r="2.1" fill="#aaa" stroke="#999" stroke-width="0.5"/><circle cx="55.29" cy="320.00" r="2.1" fill="#aaa" stroke="#999" stroke-width="0.5"/><circle cx="79.01" cy="319.80" r="2.1" fill="#aaa" stroke="#999" stroke-width="0.5"/><circle cx="120.52" cy="319.00" r="2.1" fill="#aaa" stroke="#999" stroke-width="0.5"/><polyline points="37.50,323.60 55.29,320.60 79.01,320.10 120.52,319.00" fill="none" stroke="#2e2e2e" stroke-width="1.2"/><circle cx="37.50" cy="323.60" r="1.7" fill="#8a8a8a" stroke="#222" stroke-width="0.75"/><circle cx="55.29" cy="320.60" r="1.7" fill="#8a8a8a" stroke="#222" stroke-width="0.75"/><circle cx="79.01" cy="320.10" r="1.7" fill="#8a8a8a" stroke="#222" stroke-width="0.75"/><circle cx="120.52" cy="319.00" r="1.7" fill="#8a8a8a" stroke="#222" stroke-width="0.75"/><circle cx="37.50" cy="350.40" r="1.65" fill="#fff" stroke="#2a2a2a" stroke-width="0.75"/><circle cx="37.50" cy="351.80" r="1.65" fill="#fff" stroke="#2a2a2a" stroke-width="0.75"/><line x1="37.50" y1="322.00" x2="37.50" y2="317.20" stroke="#666" stroke-width="0.6"/><line x1="36.50" y1="317.20" x2="38.50" y2="317.20" stroke="#666" stroke-width="0.6"/><line x1="55.29" y1="319.00" x2="55.29" y2="316.70" stroke="#666" stroke-width="0.6"/><line x1="54.29" y1="316.70" x2="56.29" y2="316.70" stroke="#666" stroke-width="0.6"/><line x1="79.01" y1="319.00" x2="79.01" y2="316.70" stroke="#666" stroke-width="0.6"/><line x1="78.01" y1="316.70" x2="80.01" y2="316.70" stroke="#666" stroke-width="0.6"/><line x1="120.52" y1="317.50" x2="120.52" y2="316.00" stroke="#666" stroke-width="0.6"/><line x1="119.52" y1="316.00" x2="121.52" y2="316.00" stroke="#666" stroke-width="0.6"/><line x1="162.03" y1="317.00" x2="162.03" y2="313.80" stroke="#bbb" stroke-width="0.6"/><line x1="161.03" y1="313.80" x2="163.03" y2="313.80" stroke="#bbb" stroke-width="0.6"/><line x1="162.03" y1="329.00" x2="162.03" y2="325.00" stroke="#888" stroke-width="0.6"/><line x1="161.03" y1="325.00" x2="163.03" y2="325.00" stroke="#888" stroke-width="0.6"/><line x1="37.50" y1="348.60" x2="37.50" y2="346.20" stroke="#666" stroke-width="0.6"/><line x1="36.50" y1="346.20" x2="38.50" y2="346.20" stroke="#666" stroke-width="0.6"/><circle cx="37.50" cy="329.60" r="2.1" fill="#aaa" stroke="#999" stroke-width="0.5"/><circle cx="162.03" cy="330.30" r="2.1" fill="#aaa" stroke="#999" stroke-width="0.5"/><line x1="181" y1="285.00" x2="193" y2="285.00" stroke="#d6d6d6" stroke-width="1.2"/><circle cx="187.00" cy="285.00" r="1.5" fill="#d0d0d0" stroke="#c0c0c0" stroke-width="0.5"/><text x="194.9" y="287.10" font-size="5.05" fill="#444">MCP1 (1,000 m; <tspan font-style="italic">n</tspan> = 1–4)</text><line x1="181" y1="294.75" x2="193" y2="294.75" stroke="#333" stroke-width="1.0" stroke-dasharray="0.9,1.0"/><circle cx="187.00" cy="294.75" r="1.7" fill="#fff" stroke="#333" stroke-width="0.8"/><text x="194.9" y="296.85" font-size="5.05" fill="#444">MCP2 (1,500 mg; <tspan font-style="italic">n</tspan> = 2–3)</text><line x1="181" y1="304.50" x2="193" y2="304.50" stroke="#999" stroke-width="0.9" stroke-dasharray="2,8.00,2"/><circle cx="187.00" cy="304.50" r="2.1" fill="#aaa" stroke="#999" stroke-width="0.5"/><text x="194.9" y="306.60" font-size="5.05" fill="#444">MP1 (600 mg; <tspan font-style="italic">n</tspan> = 3–7)</text><line x1="181" y1="314.25" x2="193" y2="314.25" stroke="#2e2e2e" stroke-width="1.2"/><circle cx="187.00" cy="314.25" r="1.7" fill="#8a8a8a" stroke="#222" stroke-width="0.75"/><text x="194.9" y="316.35" font-size="5.05" fill="#444">MP2 (1,000 mg; <tspan font-style="italic">n</tspan> = 1–6)</text><text x="266.6" y="280.7" font-size="12.8" font-weight="bold" fill="#000" style="stroke:#000;stroke-width:0.25px">F</text><line x1="293.8" y1="282.9" x2="293.8" y2="382.2" stroke="#999" stroke-width="0.9"/><line x1="293.8" y1="382.2" x2="427.0" y2="382.2" stroke="#999" stroke-width="0.9"/><line x1="291.8" y1="291.00" x2="293.8" y2="291.00" stroke="#999" stroke-width="0.7"/><text x="289.5" y="293.10" font-size="4.8" text-anchor="end" fill="#444">10,000</text><line x1="291.8" y1="308.25" x2="293.8" y2="308.25" stroke="#999" stroke-width="0.7"/><text x="289.5" y="310.35" font-size="4.8" text-anchor="end" fill="#444">1,000</text><line x1="291.8" y1="325.50" x2="293.8" y2="325.50" stroke="#999" stroke-width="0.7"/><text x="289.5" y="327.60" font-size="4.8" text-anchor="end" fill="#444">100</text><line x1="291.8" y1="342.75" x2="293.8" y2="342.75" stroke="#999" stroke-width="0.7"/><text x="289.5" y="344.85" font-size="4.8" text-anchor="end" fill="#444">10</text><line x1="291.8" y1="360.00" x2="293.8" y2="360.00" stroke="#999" stroke-width="0.7"/><text x="289.5" y="362.10" font-size="4.8" text-anchor="end" fill="#444">1</text><line x1="291.8" y1="377.25" x2="293.8" y2="377.25" stroke="#999" stroke-width="0.7"/><text x="289.5" y="379.35" font-size="4.8" text-anchor="end" fill="#444">0.1</text><line x1="302.00" y1="382.2" x2="302.00" y2="384.2" stroke="#999" stroke-width="0.7"/><text x="302.00" y="390.80" font-size="4.8" text-anchor="middle" fill="#444">0</text><line x1="343.58" y1="382.2" x2="343.58" y2="384.2" stroke="#999" stroke-width="0.7"/><text x="343.58" y="390.80" font-size="4.8" text-anchor="middle" fill="#444">7</text><line x1="385.16" y1="382.2" x2="385.16" y2="384.2" stroke="#999" stroke-width="0.7"/><text x="385.16" y="390.80" font-size="4.8" text-anchor="middle" fill="#444">14</text><line x1="426.74" y1="382.2" x2="426.74" y2="384.2" stroke="#999" stroke-width="0.7"/><text x="426.74" y="390.80" font-size="4.8" text-anchor="middle" fill="#444">21</text><text x="359.00" y="400.70" font-size="6.5" text-anchor="middle" fill="#222">Nominal time (days)</text><text transform="translate(270,331.20) rotate(-90)" font-size="6.6" text-anchor="middle" fill="#222">Ang2 Concentration (ng/mL)</text><polyline points="302.00,328.50 319.82,325.80 343.58,325.30 385.16,322.60 408.92,335.00 426.74,322.30" fill="none" stroke="#555" stroke-width="1.0"/><circle cx="302.00" cy="328.50" r="1.7" fill="#fff" stroke="#444" stroke-width="0.7"/><circle cx="319.82" cy="325.80" r="1.7" fill="#fff" stroke="#444" stroke-width="0.7"/><circle cx="343.58" cy="325.30" r="1.7" fill="#fff" stroke="#444" stroke-width="0.7"/><circle cx="385.16" cy="322.60" r="1.7" fill="#fff" stroke="#444" stroke-width="0.7"/><circle cx="408.92" cy="335.00" r="1.7" fill="#fff" stroke="#444" stroke-width="0.7"/><circle cx="426.74" cy="322.30" r="1.7" fill="#fff" stroke="#444" stroke-width="0.7"/><circle cx="302.00" cy="345.70" r="1.7" fill="#fff" stroke="#444" stroke-width="0.7"/><line x1="302.00" y1="344.00" x2="302.00" y2="339.80" stroke="#666" stroke-width="0.6"/><line x1="301.00" y1="339.80" x2="303.00" y2="339.80" stroke="#666" stroke-width="0.6"/><line x1="343.58" y1="324.00" x2="343.58" y2="322.50" stroke="#666" stroke-width="0.6"/><line x1="342.58" y1="322.50" x2="344.58" y2="322.50" stroke="#666" stroke-width="0.6"/><line x1="385.16" y1="321.00" x2="385.16" y2="319.50" stroke="#666" stroke-width="0.6"/><line x1="384.16" y1="319.50" x2="386.16" y2="319.50" stroke="#666" stroke-width="0.6"/><line x1="426.74" y1="321.00" x2="426.74" y2="318.50" stroke="#666" stroke-width="0.6"/><line x1="425.74" y1="318.50" x2="427.74" y2="318.50" stroke="#666" stroke-width="0.6"/><line x1="448.5" y1="300.00" x2="456.5" y2="300.00" stroke="#555" stroke-width="1.0"/><circle cx="452.50" cy="300.00" r="1.7" fill="#fff" stroke="#444" stroke-width="0.7"/><text x="459.2" y="302.10" font-size="5.05" fill="#444">TT2A (1,000 mg; <tspan font-style="italic">n</tspan> = 0–9)</text></svg></body></html>
